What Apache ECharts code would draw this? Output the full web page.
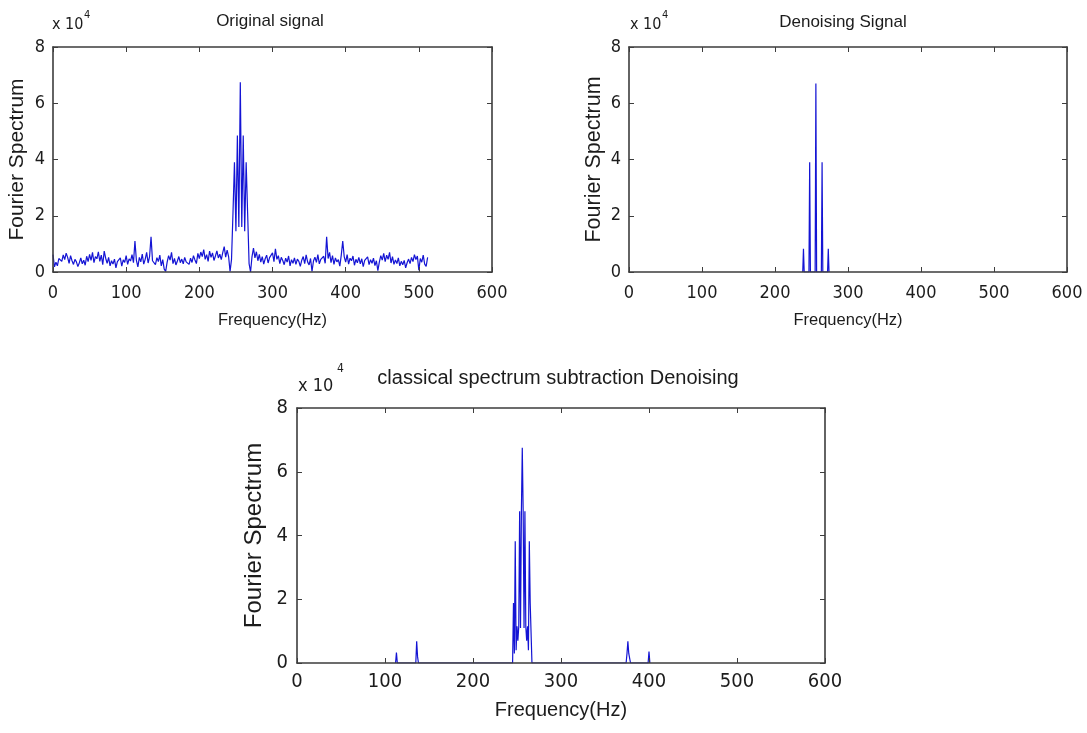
<!DOCTYPE html>
<html>
<head>
<meta charset="utf-8">
<title>Fourier Spectrum</title>
<script src="https://cdn.jsdelivr.net/npm/echarts@6/dist/echarts.min.js"></script>
<style>
  html, body { margin: 0; padding: 0; background: #ffffff; }
  #chart { width: 1087px; height: 733px; }
</style>
</head>
<body>
<div id="chart"></div>
<script>
// Amplitudes are in units of 10^4.

// Original signal: one amplitude every 2 Hz, from 0 Hz to 512 Hz.
const originalStepHz = 2;
const originalAmp = [
  0.62, 0.18, 0.35, 0.22, 0.48, 0.55, 0.38, 0.61, 0.44, 0.67,   //   0 -  18
  0.52, 0.31, 0.58, 0.40, 0.27, 0.45, 0.36, 0.19, 0.33, 0.50,   //  20 -  38
  0.29, 0.42, 0.24, 0.56, 0.37, 0.63, 0.41, 0.70, 0.33, 0.55,   //  40 -  58
  0.47, 0.72, 0.38, 0.60, 0.26, 0.74, 0.49, 0.31, 0.52, 0.22,   //  60 -  78
  0.40, 0.28, 0.46, 0.15, 0.37, 0.30, 0.50, 0.21, 0.43, 0.34,   //  80 -  98
  0.58, 0.27, 0.47, 0.39, 0.62, 0.33, 1.10, 0.41, 0.18, 0.52,   // 100 - 118
  0.36, 0.64, 0.28, 0.45, 0.70, 0.32, 0.55, 1.25, 0.40, 0.44,   // 120 - 138
  0.26, 0.51, 0.37, 0.60, 0.22, 0.44, 0.10, 0.02, 0.35, 0.58,   // 140 - 158
  0.42, 0.70, 0.30, 0.48, 0.25, 0.39, 0.55, 0.33, 0.46, 0.29,   // 160 - 178
  0.52, 0.36, 0.41, 0.27, 0.49, 0.34, 0.58, 0.43, 0.30, 0.66,   // 180 - 198
  0.48, 0.71, 0.55, 0.80, 0.45, 0.62, 0.38, 0.74, 0.52, 0.68,   // 200 - 218
  0.41, 0.57, 0.75, 0.50, 0.63, 0.44, 0.69, 0.90, 0.53, 0.78,   // 220 - 238
  0.55, 0.02, 0.45, 2.10, 3.90, 1.45, 4.85, 1.60, 6.75, 1.60,   // 240 - 258
  4.85, 1.45, 3.90, 2.10, 0.30, 0.00, 0.55, 0.85, 0.50, 0.72,   // 260 - 278
  0.40, 0.63, 0.35, 0.55, 0.28, 0.47, 0.60, 0.32, 0.51, 0.44,   // 280 - 298
  0.68, 0.37, 0.82, 0.45, 0.58, 0.30, 0.52, 0.41, 0.26, 0.49,   // 300 - 318
  0.35, 0.57, 0.22, 0.44, 0.31, 0.50, 0.27, 0.46, 0.38, 0.20,   // 320 - 338
  0.42, 0.55, 0.30, 0.61, 0.36, 0.25, 0.48, 0.02, 0.39, 0.53,   // 340 - 358
  0.34, 0.62, 0.29, 0.45, 0.40, 0.56, 0.31, 1.25, 0.48, 0.70,   // 360 - 378
  0.33, 0.58, 0.27, 0.50, 0.36, 0.44, 0.21, 0.60, 1.10, 0.55,   // 380 - 398
  0.35, 0.62, 0.28, 0.49, 0.40, 0.57, 0.24, 0.45, 0.33, 0.52,   // 400 - 418
  0.29, 0.47, 0.19, 0.41, 0.36, 0.54, 0.26, 0.44, 0.31, 0.49,   // 420 - 438
  0.23, 0.40, 0.05, 0.35, 0.58, 0.42, 0.66, 0.37, 0.60, 0.45,   // 440 - 458
  0.70, 0.32, 0.55, 0.27, 0.43, 0.30, 0.50, 0.22, 0.38, 0.26,   // 460 - 478
  0.41, 0.15, 0.33, 0.46, 0.30, 0.52, 0.37, 0.62, 0.44, 0.57,   // 480 - 498
  0.06, 0.48, 0.35, 0.60, 0.28, 0.20, 0.52                      // 500 - 512
];

// Denoised signal: sparse spectral lines around 256 Hz.
const denoisedFreq = [
  238, 238.5, 239, 239.5, 240,
  246.5, 247, 247.5, 248, 248.5,
  255, 255.5, 256, 256.5, 257,
  263.5, 264, 264.5, 265, 265.5,
  272, 272.5, 273, 273.5, 274
];
const denoisedAmp = [
  0, 0.40, 0.83, 0.40, 0,
  0, 1.90, 3.90, 1.90, 0,
  0, 3.30, 6.70, 3.30, 0,
  0, 1.90, 3.90, 1.90, 0,
  0, 0.40, 0.83, 0.40, 0
];

// Classical spectrum subtraction result.
const subtractFreq = [
  112, 113, 114, 135, 136, 137, 138, 147, 148, 149,
  245, 246, 247, 248, 249, 250, 251, 252, 253, 254, 255, 256,
  257, 258, 259, 260, 261, 262, 263, 264, 265, 266, 267,
  374, 375, 376, 377, 378, 379, 399, 400, 401
];
const subtractAmp = [
  0, 0.33, 0, 0, 0.68, 0.20, 0, 0, 0.06, 0,
  0, 1.88, 0.30, 3.82, 0.40, 1.15, 0.70, 1.15, 4.76, 1.10, 4.76, 6.75,
  4.76, 1.10, 4.76, 1.15, 0.70, 1.15, 0.40, 3.82, 1.88, 1.88, 0,
  0, 0.30, 0.68, 0.30, 0.28, 0, 0, 0.36, 0
];

// Axis ticks and text.
const freqTicks = { min: 0, max: 600, interval: 100 };
const ampTicks = { min: 0, max: 8, interval: 2 };
const panelTitles = ['Original signal', 'Denoising Signal', 'classical spectrum subtraction Denoising'];
const xAxisName = 'Frequency(Hz)';
const yAxisName = 'Fourier Spectrum';
const exponentBase = 'x 10';
const exponentPower = '4';

const NUM_FONT = '"Liberation Sans Narrow", "DejaVu Sans Condensed", "Arial Narrow", sans-serif';
const TXT_FONT = '"Liberation Sans", Arial, Helvetica, sans-serif';
const AXIS_COLOR = '#3d3d3d';
const TEXT_COLOR = '#1c1c1c';
const LINE_COLOR = '#1414d4';

const originalData = originalAmp.map((v, i) => [i * originalStepHz, v]);
const denoisedData = denoisedFreq.map((f, i) => [f, denoisedAmp[i]]);
const subtractData = subtractFreq.map((f, i) => [f, subtractAmp[i]]);

const panels = [
  { left: 53, top: 47, width: 439, height: 225, tick: 18, name: 16.5, yName: 21,
    yGap: 25, xGap: 40, xMargin: 12, yMargin: 8, title: 17, titleX: 265, titleY: 8,
    expX: 52, expY: 17, expSize: 16, powX: 84, powY: 10, powSize: 11, data: originalData },
  { left: 629, top: 47, width: 438, height: 225, tick: 18, name: 16.5, yName: 21.5,
    yGap: 24, xGap: 40, xMargin: 12, yMargin: 8, title: 17, titleX: 838, titleY: 9,
    expX: 630, expY: 17, expSize: 16, powX: 662, powY: 10, powSize: 11, data: denoisedData },
  { left: 297, top: 408, width: 528, height: 255, tick: 20, name: 20, yName: 24,
    yGap: 31, xGap: 37, xMargin: 9, yMargin: 9, title: 20, titleX: 553, titleY: 363,
    expX: 298, expY: 377, expSize: 18, powX: 337, powY: 363, powSize: 12, data: subtractData }
];

const grid = [], xAxis = [], yAxis = [], series = [], title = [], graphic = [];

panels.forEach((p, g) => {
  grid.push({ left: p.left, top: p.top, width: p.width, height: p.height, containLabel: false });

  const tickStyle = { show: true, inside: true, length: 5, lineStyle: { color: AXIS_COLOR, width: 1 } };
  const lineStyle = { show: true, onZero: false, lineStyle: { color: AXIS_COLOR, width: 1.6 } };
  const numLabel = { color: TEXT_COLOR, fontFamily: NUM_FONT, fontSize: p.tick };

  // bottom frequency axis with labels, top copy for the box ticks
  xAxis.push({
    type: 'value', gridIndex: g, position: 'bottom', ...freqTicks, z: 5,
    axisLine: lineStyle, axisTick: tickStyle, splitLine: { show: false },
    axisLabel: { ...numLabel, margin: p.xMargin, showMinLabel: true, showMaxLabel: true },
    name: xAxisName, nameLocation: 'middle', nameGap: p.xGap,
    nameTextStyle: { color: TEXT_COLOR, fontFamily: TXT_FONT, fontSize: p.name }
  });
  xAxis.push({
    type: 'value', gridIndex: g, position: 'top', ...freqTicks,
    axisLine: lineStyle, axisTick: tickStyle, splitLine: { show: false },
    axisLabel: { show: false }
  });

  // left amplitude axis with labels, right copy for the box ticks
  yAxis.push({
    type: 'value', gridIndex: g, position: 'left', ...ampTicks, z: 5,
    axisLine: lineStyle, axisTick: tickStyle, splitLine: { show: false },
    axisLabel: { ...numLabel, margin: p.yMargin, showMinLabel: true, showMaxLabel: true },
    name: yAxisName, nameLocation: 'middle', nameGap: p.yGap, nameRotate: 90,
    nameTextStyle: { color: TEXT_COLOR, fontFamily: TXT_FONT, fontSize: p.yName }
  });
  yAxis.push({
    type: 'value', gridIndex: g, position: 'right', ...ampTicks,
    axisLine: lineStyle, axisTick: tickStyle, splitLine: { show: false },
    axisLabel: { show: false }
  });

  series.push({
    type: 'line', xAxisIndex: 2 * g, yAxisIndex: 2 * g,
    data: p.data, showSymbol: false, symbol: 'none',
    lineStyle: { color: LINE_COLOR, width: 1.2 },
    itemStyle: { color: LINE_COLOR },
    emphasis: { disabled: true }, silent: true, clip: true
  });

  title.push({
    text: panelTitles[g], left: p.titleX, top: p.titleY, textAlign: 'center',
    textStyle: { color: TEXT_COLOR, fontFamily: TXT_FONT, fontSize: p.title, fontWeight: 'normal' }
  });

  // "x 10^4" scale note above each amplitude axis
  graphic.push({
    type: 'text', left: p.expX, top: p.expY, silent: true,
    style: { text: exponentBase, fill: TEXT_COLOR, fontFamily: NUM_FONT, fontSize: p.expSize }
  });
  graphic.push({
    type: 'text', left: p.powX, top: p.powY, silent: true,
    style: { text: exponentPower, fill: TEXT_COLOR, fontFamily: NUM_FONT, fontSize: p.powSize }
  });
});

const chart = echarts.init(document.getElementById('chart'), null, { renderer: 'canvas' });
chart.setOption({
  backgroundColor: '#ffffff',
  animation: false,
  title, grid, xAxis, yAxis, series, graphic
});
</script>
</body>
</html>
